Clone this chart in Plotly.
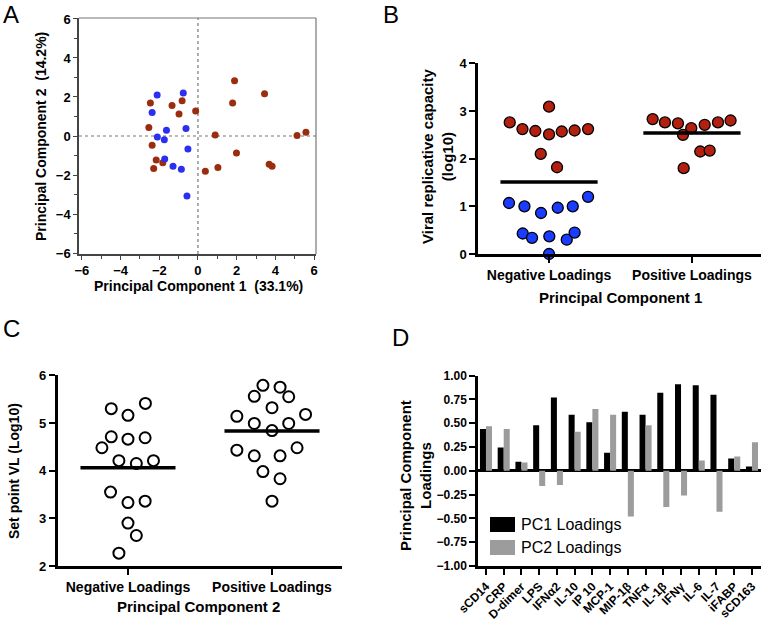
import plotly.graph_objects as go

W, H = 765, 623
FONT = "Liberation Sans, Arial, Helvetica, sans-serif"

# ---------------- Panel A data (PCA scores) ----------------
a_blue_pc1 = [-2.11, -0.76, -2.37, -1.63, -0.62, -2.10, -1.74, -0.52, -1.72, -1.29, -0.86, -0.57]
a_blue_pc2 = [2.10, 2.20, 1.21, 0.29, 0.39, -0.05, -0.19, -0.67, -1.18, -1.55, -1.71, -3.07]
a_red_pc1 = [-2.46, -1.34, -0.82, -0.98, -0.12, -2.54, -2.37, -2.16, -1.82, -2.29, 0.38,
             0.89, 1.03, 1.89, 1.79, 1.99, 3.44, 3.68, 3.83, 5.12, 5.58]
a_red_pc2 = [1.69, 1.57, 1.81, 1.13, 1.28, 0.43, -0.48, -1.23, -1.37, -1.67, -1.81,
             0.05, -1.62, 2.83, 1.69, -0.87, 2.17, -1.45, -1.55, 0.02, 0.19]

# ---------------- Panel B data (viral replicative capacity) ----------------
b_categories = ["Negative Loadings", "Positive Loadings"]
b_neg_red = [3.09, 2.76, 2.62, 2.58, 2.51, 2.57, 2.59, 2.62, 2.10, 1.82]
b_neg_red_jit = [0.0, -0.275, -0.186, -0.096, 0.0, 0.089, 0.179, 0.273, -0.058, 0.056]
b_neg_blue = [1.07, 1.00, 0.86, 0.97, 1.00, 1.20, 0.43, 0.34, 0.37, 0.30, 0.45, 0.00]
b_neg_blue_jit = [-0.28, -0.172, -0.056, 0.061, 0.166, 0.273, -0.184, -0.119, 0.002, 0.124, 0.179, 0.0]
b_pos_red = [2.83, 2.76, 2.74, 2.64, 2.71, 2.76, 2.80, 2.50, 2.15, 2.17, 1.80]
b_pos_red_jit = [-0.275, -0.189, -0.098, -0.005, 0.089, 0.182, 0.27, -0.063, 0.058, 0.124, -0.058]
b_center_lines = [1.51, 2.54]
b_pvalue = "p = 0.0002"

# ---------------- Panel C data (set point VL) ----------------
c_categories = ["Negative Loadings", "Positive Loadings"]
c_neg = [5.30, 5.16, 5.41, 4.71, 4.66, 4.69, 4.48, 4.21, 4.15, 4.21, 3.55, 3.33, 3.36, 2.90, 2.64, 2.27]
c_neg_jit = [-0.116, 0.0, 0.121, -0.116, 0.0, 0.119, -0.181, -0.063, 0.058, 0.177, -0.121, 0.0, 0.119, 0.0, 0.058, -0.063]
c_pos = [5.79, 5.75, 5.56, 5.55, 5.32, 5.14, 5.18, 4.99, 4.99, 4.84, 4.43, 4.31, 4.31, 4.48, 3.98, 3.83, 3.36]
c_pos_jit = [-0.063, 0.056, -0.123, 0.116, 0.0, -0.244, 0.233, -0.123, 0.116, 0.0, -0.244, -0.123, 0.056, 0.174, -0.063, 0.056, 0.0]
c_center_lines = [4.06, 4.83]
c_pvalue = "p = 0.01"

# ---------------- Panel D data (loadings) ----------------
d_markers = ["sCD14", "CRP", "D-dimer", "LPS", "IFNα2", "IL-10", "IP 10", "MCP-1", "MIP-1β",
             "TNFα", "IL-1β", "IFNγ", "IL-6", "IL-7", "iFABP", "sCD163"]
d_pc1 = [0.44, 0.245, 0.095, 0.48, 0.77, 0.59, 0.51, 0.19, 0.62, 0.59, 0.82, 0.91, 0.90, 0.80, 0.13, 0.045]
d_pc2 = [0.47, 0.44, 0.088, -0.16, -0.15, 0.41, 0.65, 0.59, -0.48, 0.48, -0.38, -0.26, 0.11, -0.43, 0.15, 0.30]
d_series = ["PC1 Loadings", "PC2 Loadings"]


def px(x):
    return x / W


def py(y):
    return 1 - y / H


RED_A, BLUE_A = "#9b2c0e", "#2b2ff0"
RED_B, BLUE_B = "#b3200f", "#1a3cff"

fig = go.Figure()

# Panel A
fig.add_trace(go.Scatter(x=a_red_pc1, y=a_red_pc2, mode="markers", xaxis="x", yaxis="y",
                         marker=dict(color=RED_A, size=7), showlegend=False, cliponaxis=False))
fig.add_trace(go.Scatter(x=a_blue_pc1, y=a_blue_pc2, mode="markers", xaxis="x", yaxis="y",
                         marker=dict(color=BLUE_A, size=7), showlegend=False, cliponaxis=False))

# Panel B
bm = dict(size=11, line=dict(color="black", width=1.3))
fig.add_trace(go.Scatter(x=[0 + j for j in b_neg_red_jit], y=b_neg_red, mode="markers", xaxis="x2", yaxis="y2",
                         marker=dict(color=RED_B, **bm), showlegend=False, cliponaxis=False))
fig.add_trace(go.Scatter(x=[0 + j for j in b_neg_blue_jit], y=b_neg_blue, mode="markers", xaxis="x2", yaxis="y2",
                         marker=dict(color=BLUE_B, **bm), showlegend=False, cliponaxis=False))
fig.add_trace(go.Scatter(x=[1 + j for j in b_pos_red_jit], y=b_pos_red, mode="markers", xaxis="x2", yaxis="y2",
                         marker=dict(color=RED_B, **bm), showlegend=False, cliponaxis=False))
for i, v in enumerate(b_center_lines):
    fig.add_trace(go.Scatter(x=[i - 0.34, i + 0.34], y=[v, v], mode="lines", xaxis="x2", yaxis="y2",
                             line=dict(color="black", width=3.5), showlegend=False, cliponaxis=False))

# Panel C
cm = dict(size=11, color="white", line=dict(color="black", width=2))
fig.add_trace(go.Scatter(x=[0 + j for j in c_neg_jit], y=c_neg, mode="markers", xaxis="x3", yaxis="y3",
                         marker=cm, showlegend=False, cliponaxis=False))
fig.add_trace(go.Scatter(x=[1 + j for j in c_pos_jit], y=c_pos, mode="markers", xaxis="x3", yaxis="y3",
                         marker=cm, showlegend=False, cliponaxis=False))
for i, v in enumerate(c_center_lines):
    fig.add_trace(go.Scatter(x=[i - 0.33, i + 0.33], y=[v, v], mode="lines", xaxis="x3", yaxis="y3",
                             line=dict(color="black", width=3.5), showlegend=False, cliponaxis=False))

# Panel D
fig.add_trace(go.Bar(x=d_markers, y=d_pc1, name=d_series[0], marker=dict(color="black", line=dict(width=0)),
                     xaxis="x4", yaxis="y4", showlegend=False))
fig.add_trace(go.Bar(x=d_markers, y=d_pc2, name=d_series[1], marker=dict(color="#9c9c9c", line=dict(width=0)),
                     xaxis="x4", yaxis="y4", showlegend=False))

a_tick_font = dict(family=FONT, size=13, color="black", weight="bold")
tick_font = dict(family=FONT, size=13, color="black", weight="bold")
cat_font = dict(family=FONT, size=14, color="black", weight="bold")

# Domains
A_x = [px(79), px(316)]
A_y = [py(254), py(18)]
B_x = [px(478), px(761)]
B_y = [py(254), py(63.3)]
C_x = [px(57.7), px(342)]
C_y = [py(566), py(375.3)]
D_x = [px(478), px(761)]
D_y = [py(566), py(375.7)]

common = dict(showgrid=False, zeroline=False, automargin=False)

fig.update_layout(
    template="none",
    width=W, height=H, margin=dict(l=0, r=0, t=0, b=0, pad=0, autoexpand=False),
    paper_bgcolor="white", plot_bgcolor="white",
    font=dict(family=FONT, color="black"),
    barmode="group", bargap=0.32, bargroupgap=0.0,
    xaxis=dict(domain=A_x, anchor="y", range=[-6.15, 6.1], tickvals=[-6, -4, -2, 0, 2, 4, 6],
               showline=True, linecolor="#444", linewidth=1.5, ticks="outside", ticklen=4, tickwidth=1.2,
               tickcolor="#444", tickfont=a_tick_font,
               minor=dict(tickvals=[-5, -3, -1, 1, 3, 5], ticks="outside", ticklen=3, tickcolor="#444", showgrid=False),
               **common),
    yaxis=dict(domain=A_y, anchor="x", range=[-6.05, 6.05], tickvals=[-6, -4, -2, 0, 2, 4, 6],
               showline=True, linecolor="#444", linewidth=1.5, ticks="outside", ticklen=4, tickwidth=1.2,
               tickcolor="#444", tickfont=a_tick_font,
               minor=dict(tickvals=[-5, -3, -1, 1, 3, 5], ticks="outside", ticklen=3, tickcolor="#444", showgrid=False),
               **common),
    xaxis2=dict(domain=B_x, anchor="y2", range=[-0.497, 1.483], tickvals=[0, 1], ticktext=b_categories,
                showline=True, linecolor="black", linewidth=2.5, ticks="outside", ticklen=6, tickwidth=2,
                tickcolor="black", tickfont=cat_font, **common),
    yaxis2=dict(domain=B_y, anchor="x2", range=[0, 4], tickvals=[0, 1, 2, 3, 4],
                showline=True, linecolor="black", linewidth=2.5, ticks="outside", ticklen=6, tickwidth=2,
                tickcolor="black", tickfont=tick_font, **common),
    xaxis3=dict(domain=C_x, anchor="y3", range=[-0.488, 1.486], tickvals=[0, 1], ticktext=c_categories,
                showline=True, linecolor="black", linewidth=2.5, ticks="outside", ticklen=6, tickwidth=2,
                tickcolor="black", tickfont=cat_font, **common),
    yaxis3=dict(domain=C_y, anchor="x3", range=[2, 6], tickvals=[2, 3, 4, 5, 6],
                showline=True, linecolor="black", linewidth=2.5, ticks="outside", ticklen=6, tickwidth=2,
                tickcolor="black", tickfont=tick_font, **common),
    xaxis4=dict(domain=D_x, anchor="y4", range=[-0.45, 15.51], type="category",
                showline=True, linecolor="black", linewidth=2.5, ticks="outside", ticklen=6, tickwidth=2,
                tickcolor="black", tickangle=-45,
                tickfont=dict(family=FONT, size=12, color="black", weight="bold"), **common),
    yaxis4=dict(domain=D_y, anchor="x4", range=[-1, 1], tickvals=[-1, -0.75, -0.5, -0.25, 0, 0.25, 0.5, 0.75, 1],
                tickformat=".2f", showline=True, linecolor="black", linewidth=2.5, ticks="outside", ticklen=6,
                tickwidth=2, tickcolor="black", showgrid=False, zeroline=True, zerolinecolor="black",
                zerolinewidth=2.5, automargin=False,
                tickfont=dict(family=FONT, size=12, color="black", weight="bold")),
)

shapes = []
# Panel A frame (top/right) and dotted origin lines
shapes.append(dict(type="line", xref="x domain", yref="y domain", x0=0, x1=1, y0=1, y1=1,
                   line=dict(color="#777", width=1.2)))
shapes.append(dict(type="line", xref="x domain", yref="y domain", x0=1, x1=1, y0=0, y1=1,
                   line=dict(color="#777", width=1.2)))
shapes.append(dict(type="line", xref="x", yref="y domain", x0=0, x1=0, y0=0, y1=1,
                   line=dict(color="#777", width=1.2, dash="dot"), layer="below"))
shapes.append(dict(type="line", xref="x domain", yref="y", x0=0, x1=1, y0=0, y1=0,
                   line=dict(color="#777", width=1.2, dash="dot"), layer="below"))


def sig_bar(xr, yr, y, cap):
    out = [dict(type="line", xref=xr, yref=yr, x0=0, x1=1, y0=y, y1=y, line=dict(color="black", width=3))]
    for xx in (0, 1):
        out.append(dict(type="line", xref=xr, yref=yr, x0=xx, x1=xx, y0=y - cap, y1=y + cap,
                        line=dict(color="black", width=2.5)))
    return out


shapes += sig_bar("x2", "y2", 4.29, 0.09)
shapes += sig_bar("x3", "y3", 6.28, 0.09)

# Panel D legend swatches
shapes.append(dict(type="rect", xref="paper", yref="paper", x0=px(490), x1=px(515), y0=py(532), y1=py(517),
                   fillcolor="black", line=dict(width=0)))
shapes.append(dict(type="rect", xref="paper", yref="paper", x0=px(490), x1=px(515), y0=py(555), y1=py(540),
                   fillcolor="#9c9c9c", line=dict(width=0)))
fig.update_layout(shapes=shapes)

ann = []


def text(x, y, s, size, bold=True, angle=0, xanchor="center", yanchor="middle", xref="paper", yref="paper"):
    ann.append(dict(x=x, y=y, xref=xref, yref=yref, text=s, showarrow=False, textangle=angle,
                    xanchor=xanchor, yanchor=yanchor,
                    font=dict(family=FONT, size=size, color="black", weight="bold" if bold else "normal")))


# Panel letters
text(px(11), py(14), "A", 24, bold=False)
text(px(391), py(14), "B", 24, bold=False)
text(px(11.5), py(328.5), "C", 24, bold=False)
text(px(400), py(337.5), "D", 24, bold=False)

# Axis titles
text(px(198), py(286), "Principal Component 1  (33.1%)", 14)
text(px(41), py(137), "Principal Component 2  (14.2%)", 14, angle=-90)
text(px(437), py(157), "Viral replicative capacity<br>(log10)", 15, angle=-90)
text(px(620), py(297), "Principal Component 1", 15)
text(px(14), py(471), "Set point VL (Log10)", 14, angle=-90)
text(px(198), py(606), "Principal Component 2", 15)
text(px(415), py(475), "Principal Component<br>Loadings", 15, angle=-90)

# p-values
text(0.5, 4.71, b_pvalue, 14, xref="x2", yref="y2")
text(0.5, 6.70, c_pvalue, 14, xref="x3", yref="y3")

# Legend labels
text(px(519), py(524.5), d_series[0], 16, bold=False, xanchor="left")
text(px(519), py(547.5), d_series[1], 16, bold=False, xanchor="left")

fig.update_layout(annotations=ann)

fig.write_html("out.html", config={"displayModeBar": False},
               post_script="document.body.style.margin='0';document.body.style.overflow='hidden';")
